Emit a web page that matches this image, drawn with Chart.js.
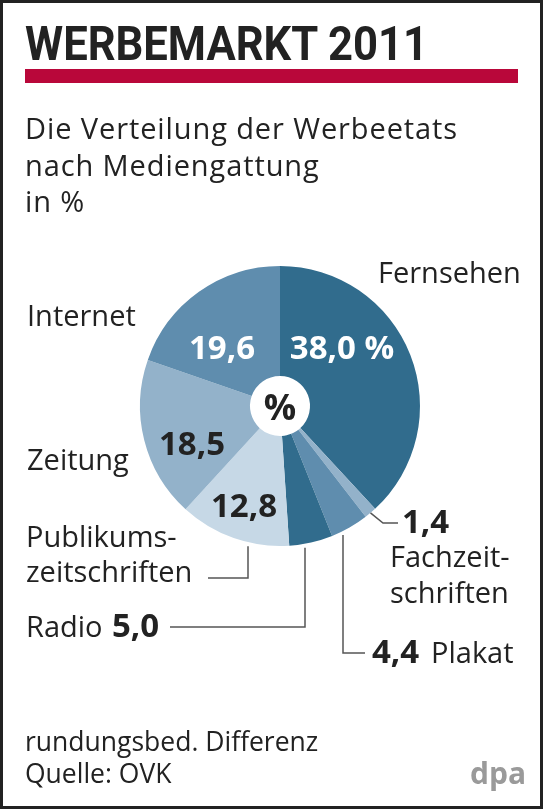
<!DOCTYPE html>
<html lang="de">
<head>
  <meta charset="UTF-8">
  <title>Werbemarkt 2011</title>
  <script src="https://cdn.jsdelivr.net/npm/chart.js"></script>
  <style>
    html, body { margin: 0; padding: 0; background: #fff; }
    #frame { position: relative; width: 543px; height: 809px; overflow: hidden; background: #fff; }
    #frame:after { content: ''; position: absolute; left: 0; top: 0; right: 0; bottom: 0; border: 3px solid #222; pointer-events: none; }
    #pie { position: absolute; left: 0; top: 0; }
    .txt { position: absolute; left: 25px; color: #222; font-family: "Open Sans", sans-serif; white-space: nowrap; }
    #title { top: 19px; font: 700 49px/49px Roboto, sans-serif; transform-origin: left top; }
    #bar { position: absolute; left: 25px; top: 69px; width: 493px; height: 14px; background: #b9073a; }
    #sub { top: 110px; font-size: 29px; line-height: 36.5px; letter-spacing: 0.9px; }
    #foot { top: 725px; font-size: 26.5px; line-height: 32px; }
    #dpa { position: absolute; left: 470px; top: 758px; font: 700 30px/30px "Open Sans", sans-serif; color: #9a9a9a; }
  </style>
</head>
<body>
  <div id="frame">
    <canvas id="pie" width="543" height="809"></canvas>
    <div class="txt" id="title">WERBEMARKT 2011</div>
    <div id="bar"></div>
    <div class="txt" id="sub">Die Verteilung der Werbeetats<br>nach Mediengattung<br>in %</div>
    <div class="txt" id="foot">rundungsbed. Differenz<br>Quelle: OVK</div>
    <div id="dpa">dpa</div>
  </div>

  <script>
    // Werbemarkt 2011, Anteile in Prozent (im Uhrzeigersinn ab 12 Uhr)
    var categories = ['Fernsehen', 'Fachzeitschriften', 'Plakat', 'Radio', 'Publikumszeitschriften', 'Zeitung', 'Internet'];
    var shares = [38.0, 1.4, 4.4, 5.0, 12.8, 18.5, 19.6];
    var sliceColors = ['#316c8d', '#93b2ca', '#5f8dae', '#316c8d', '#c6d8e6', '#93b2ca', '#5f8dae'];

    function fmt(v) {
      return v.toFixed(1).replace('.', ',');
    }

    // squeeze the headline to the width of the original
    var title = document.getElementById('title');
    title.style.transform = 'scaleX(' + (403 / title.getBoundingClientRect().width) + ')';

    var ink = '#222';
    var regular = '29px "Open Sans", sans-serif';
    var bold = '700 33px "Open Sans", sans-serif';

    // value labels inside the pie, offsets from pie centre
    var insideLabels = [
      { i: 0, dx: 62, dy: -47, color: '#fff', suffix: ' %' },
      { i: 6, dx: -58, dy: -47, color: '#fff', suffix: '' },
      { i: 5, dx: -88, dy: 49, color: ink, suffix: '' },
      { i: 4, dx: -36, dy: 111, color: ink, suffix: '' }
    ];

    var labelPlugin = {
      id: 'labels',
      afterDatasetsDraw: function(chart) {
        var ctx = chart.ctx;
        var arcs = chart.getDatasetMeta(0).data;
        var cx = arcs[0].x, cy = arcs[0].y, r = arcs[0].outerRadius;

        function text(str, x, y, font, color, align) {
          ctx.font = font;
          ctx.fillStyle = color;
          ctx.textAlign = align || 'left';
          ctx.textBaseline = 'alphabetic';
          ctx.fillText(str, cx + x, cy + y);
        }
        function edgeY(dx) {
          return Math.sqrt(r * r - dx * dx) + 4;
        }
        function line(pts) {
          ctx.beginPath();
          ctx.moveTo(cx + pts[0][0], cy + pts[0][1]);
          for (var k = 1; k < pts.length; k++) ctx.lineTo(cx + pts[k][0], cy + pts[k][1]);
          ctx.stroke();
        }

        ctx.save();
        insideLabels.forEach(function(l) {
          text(fmt(shares[l.i]) + l.suffix, l.dx, l.dy, bold, l.color, 'center');
        });
        text('%', 0, 14, '700 36px "Open Sans", sans-serif', ink, 'center');

        // category names
        text(categories[0], 98, -123, regular, ink);
        text(categories[6], -253, -80, regular, ink);
        text(categories[5], -253, 64, regular, ink);
        text('Publikums-', -254, 141, regular, ink);
        text('zeitschriften', -254, 176, regular, ink);
        text(categories[3], -254, 231, regular, ink);
        text(fmt(shares[3]), -168, 231, bold, ink);
        text(fmt(shares[1]), 122, 127, bold, ink);
        text('Fachzeit-', 110, 161, regular, ink);
        text('schriften', 110, 197, regular, ink);
        text(fmt(shares[2]), 92, 257, bold, ink);
        text(categories[2], 151, 257, regular, ink);

        // leader lines
        ctx.strokeStyle = '#555';
        ctx.lineWidth = 1.5;
        var a = (arcs[1].startAngle + arcs[1].endAngle) / 2;
        line([[Math.cos(a) * r, Math.sin(a) * r], [103, 117], [118, 117]]);
        line([[63, edgeY(63)], [63, 247], [85, 247]]);
        line([[25, edgeY(25)], [25, 221], [-110, 221]]);
        line([[-32, edgeY(32)], [-32, 172], [-72, 172]]);
        ctx.restore();
      }
    };

    var ctx = document.getElementById('pie').getContext('2d');
    var chart = new Chart(ctx, {
      type: 'doughnut',
      data: {
        labels: categories,
        datasets: [{
          data: shares,
          backgroundColor: sliceColors,
          borderWidth: 0,
          hoverOffset: 0
        }]
      },
      options: {
        responsive: false,
        animation: false,
        cutout: 30,
        layout: { padding: { left: 140, right: 123, top: 266, bottom: 263 } },
        plugins: {
          legend: { display: false },
          tooltip: { enabled: false }
        }
      },
      plugins: [labelPlugin]
    });
  </script>
</body>
</html>
